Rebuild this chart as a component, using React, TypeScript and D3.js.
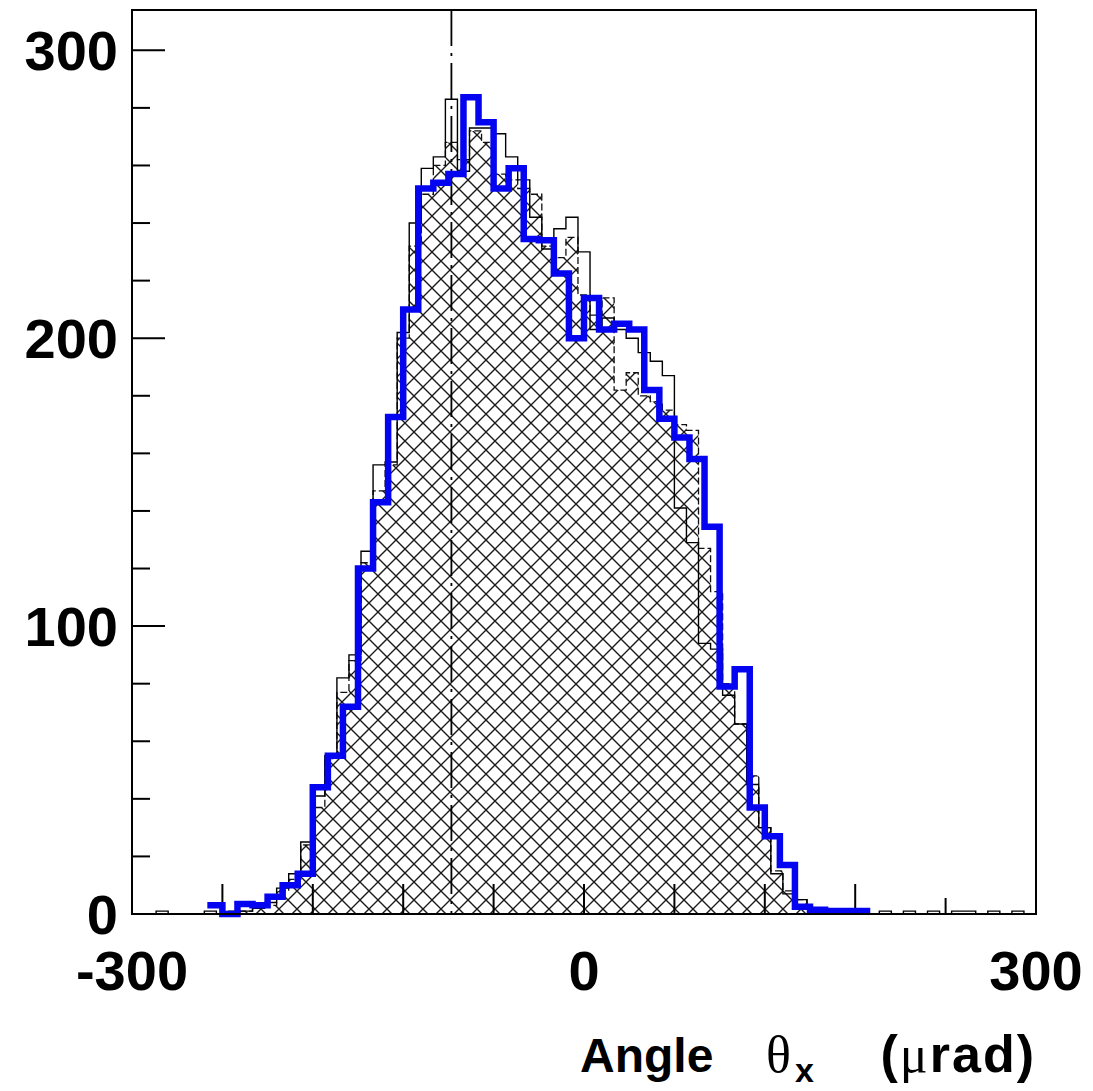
import React from "react";
import * as d3 from "d3";

// ---------- data ----------
const X_DOMAIN = [-300, 300];
const Y_DOMAIN = [0, 314];

// Blue histogram (10 µrad bins), first bin starts at -250
const blueStart = -250;
const blueBinWidth = 10;
const blueCounts = [
  3, 0, 3.5, 3, 6, 10, 14, 44, 55, 72,
  120, 143, 172.6, 210, 252, 254, 257, 283.7, 275, 252,
  259, 234.5, 234, 222.5, 200, 214, 203, 205, 203, 182,
  172, 165.5, 158, 134.5, 79, 85, 37, 27, 17, 2.5,
  1.5, 1, 1, 1,
];

// Black solid-line histogram (8 µrad bins from -300)
const fineStart = -300;
const fineBinWidth = 8;
const blackCounts = [
  0, 0, 1, 0, 0, 0, 1, 0, 1, 1,
  2, 4, 9, 14, 25, 41, 55, 82, 90, 126,
  156, 157, 202, 240, 259, 263, 283, 258, 273, 273,
  271, 263, 255, 242, 231, 238, 242, 230, 203, 207,
  203, 200, 195, 192, 187, 141, 129, 94, 92, 76,
  66, 45, 30, 14, 7, 5, 2, 1, 0, 1,
  0, 0, 1, 0, 1, 0, 1, 0, 1, 1,
  0, 1, 0, 1, 0,
];

// Cross-hatched histogram with dashed outline (8 µrad bins from -300)
const hatchCounts = [
  0, 0, 0, 0, 0, 0, 0, 0, 0, 1,
  2, 3, 8, 12, 24, 37, 54, 77, 88, 122,
  147, 156, 200, 232, 250, 260, 268, 262, 272, 268,
  257, 255, 252, 250, 232, 228, 235, 215, 208, 214,
  182, 188, 180, 178, 175, 170, 168, 127, 112, 80,
  66, 48, 30, 15, 8, 5, 2, 1, 0, 0,
  0, 0, 0, 0, 0, 0, 0, 0, 0, 0,
  0, 0, 0, 0, 0,
];

const markerX = -88;
const yMajorTicks = [0, 100, 200, 300];
const yMinorStep = 20;
const xTickValues = [-240, -180, -120, -60, 0, 60, 120, 180, 240];
const xLabelValues = [-300, 0, 300];

const FONT = "'Liberation Sans', Arial, Helvetica, sans-serif";
const SERIF = "'Liberation Serif', 'DejaVu Serif', serif";

type Pt = [number, number];

function stepPoints(start: number, w: number, counts: number[]): Pt[] {
  const pts: Pt[] = counts.map((c, i) => [start + i * w, c] as Pt);
  pts.push([start + counts.length * w, counts[counts.length - 1]]);
  return pts;
}

export default function App() {
  const left = 132, right = 1036, top = 10, bottom = 914;
  const x = d3.scaleLinear().domain(X_DOMAIN).range([left, right]);
  const y = d3.scaleLinear().domain(Y_DOMAIN).range([bottom, top]);

  const line = d3
    .line<Pt>()
    .x((d) => x(d[0]))
    .y((d) => y(d[1]))
    .curve(d3.curveStepAfter);
  const area = d3
    .area<Pt>()
    .x((d) => x(d[0]))
    .y0(y(0))
    .y1((d) => y(d[1]))
    .curve(d3.curveStepAfter);

  const hatchPts = stepPoints(fineStart, fineBinWidth, hatchCounts);
  const blackPts = stepPoints(fineStart, fineBinWidth, blackCounts);
  const bluePts = stepPoints(blueStart, blueBinWidth, blueCounts);

  const yMinor = d3.range(0, Y_DOMAIN[1], yMinorStep).filter((v) => !yMajorTicks.includes(v));

  return (
    <svg
      width={1093}
      height={1091}
      style={{ position: "absolute", left: 0, top: 0, background: "#fff" }}
    >
      <defs>
        <pattern id="hatch" patternUnits="userSpaceOnUse" width={18} height={18}>
          <rect width={18} height={18} fill="#fff" />
          <path
            d="M-2,-2 L20,20 M20,-2 L-2,20"
            stroke="#1a1a1a"
            strokeWidth={1.4}
            fill="none"
          />
        </pattern>
      </defs>
      <rect x={0} y={0} width={1093} height={1091} fill="#fff" />

      {/* hatched histogram */}
      <path d={area(hatchPts) || ""} fill="url(#hatch)" stroke="none" />
      <path
        d={line(hatchPts) || ""}
        fill="none"
        stroke="#111"
        strokeWidth={1.3}
        strokeDasharray="7,3"
      />

      {/* black solid histogram */}
      <path d={line(blackPts) || ""} fill="none" stroke="#000" strokeWidth={1.4} />

      {/* x axis ticks (drawn upward from bottom) */}
      {xTickValues.map((v) => (
        <line
          key={"xt" + v}
          x1={x(v)}
          x2={x(v)}
          y1={bottom}
          y2={bottom - (v === 240 ? 16 : 30)}
          stroke="#000"
          strokeWidth={2}
        />
      ))}

      {/* dash-dot marker line */}
      <line
        x1={x(markerX)}
        x2={x(markerX)}
        y1={top}
        y2={bottom}
        stroke="#000"
        strokeWidth={1.8}
        strokeDasharray="36,7,3,7"
      />

      {/* blue histogram */}
      <path
        d={line(bluePts) || ""}
        fill="none"
        stroke="#0404f0"
        strokeWidth={6.5}
        strokeLinejoin="miter"
      />

      {/* y ticks */}
      {yMajorTicks.map((v) => (
        <line key={"yM" + v} x1={left} x2={left + 33} y1={y(v)} y2={y(v)} stroke="#000" strokeWidth={2} />
      ))}
      {yMinor.map((v) => (
        <line key={"ym" + v} x1={left} x2={left + 18} y1={y(v)} y2={y(v)} stroke="#000" strokeWidth={2} />
      ))}

      {/* frame */}
      <rect
        x={left}
        y={top}
        width={right - left}
        height={bottom - top}
        fill="none"
        stroke="#000"
        strokeWidth={2}
      />

      {/* y labels */}
      {yMajorTicks.map((v) => (
        <text
          key={"yl" + v}
          x={118}
          y={y(v) + 20}
          textAnchor="end"
          fontFamily={FONT}
          fontWeight="bold"
          fontSize={56}
          fill="#000"
        >
          {v}
        </text>
      ))}

      {/* x labels */}
      {xLabelValues.map((v) => (
        <text
          key={"xl" + v}
          x={x(v)}
          y={990}
          textAnchor="middle"
          fontFamily={FONT}
          fontWeight="bold"
          fontSize={56}
          fill="#000"
        >
          {v}
        </text>
      ))}

      {/* axis title: Angle θx (µrad) */}
      <text x={580} y={1072} fontFamily={FONT} fontWeight="bold" fontSize={48} fill="#000">
        Angle
      </text>
      <text x={766} y={1072} fontFamily={SERIF} fontSize={52} fill="#000">
        θ
      </text>
      <text x={795} y={1082} fontFamily={FONT} fontWeight="bold" fontSize={34} fill="#000">
        x
      </text>
      <text
        x={right}
        y={1072}
        textAnchor="end"
        fontFamily={FONT}
        fontWeight="bold"
        fontSize={52}
        letterSpacing={2}
        fill="#000"
      >
        (<tspan fontFamily={SERIF} fontWeight="normal">μ</tspan>rad)
      </text>
    </svg>
  );
}
